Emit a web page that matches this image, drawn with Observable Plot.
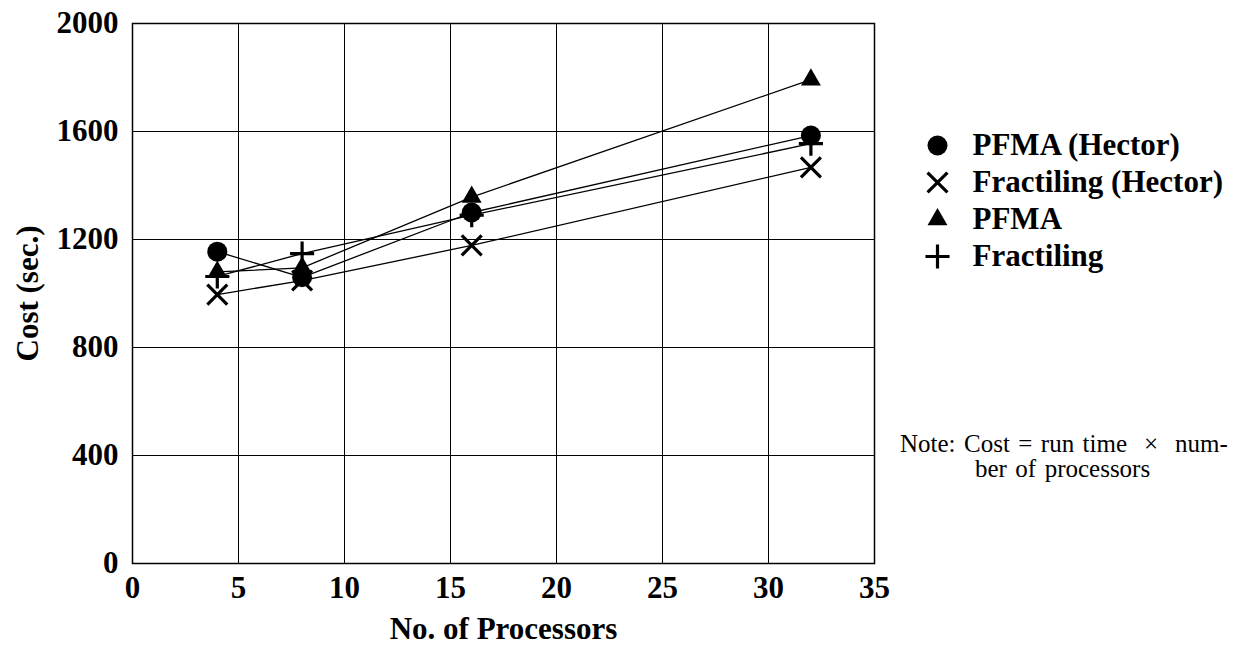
<!DOCTYPE html>
<html>
<head>
<meta charset="utf-8">
<script src="https://cdn.jsdelivr.net/npm/d3@7"></script>
<script src="https://cdn.jsdelivr.net/npm/@observablehq/plot@0.6"></script>
<style>
  html, body { margin: 0; padding: 0; background: #fff; }
  #wrap { position: relative; width: 1235px; height: 647px; overflow: hidden; }
  #legend { position: absolute; left: 900px; top: 120px; }
  #note { position: absolute; left: 900px; top: 431px; font-family: "Liberation Serif", "Times New Roman", serif; font-size: 25px; line-height: 25px; color: #000; white-space: nowrap; word-spacing: 2.2px; }
</style>
</head>
<body>
<div id="wrap">
  <div id="chart"></div>
  <div id="legend"></div>
  <div id="note">Note: Cost = run time &nbsp;×&nbsp; num-<br><span style="padding-left:75px">ber of processors</span></div>
</div>
<script>
const processors = [4, 8, 16, 32];
const seriesNames = ["PFMA (Hector)", "Fractiling (Hector)", "PFMA", "Fractiling"];
const pfmaHector = [1155, 1060, 1300, 1585];
const fractilingHector = [996, 1048, 1178, 1467];
const pfma = [1080, 1095, 1357, 1792];
const fractiling = [1063, 1148, 1290, 1555];
const xTicks = [0, 5, 10, 15, 20, 25, 30, 35];
const yTicks = [0, 400, 800, 1200, 1600, 2000];

const seriesValues = [pfmaHector, fractilingHector, pfma, fractiling];
const symbols = ["circle", "times", "triangle", "plus"];
const filled = [true, false, true, false];
const radii = [10, 9.1, 7.4, 7.8];

const rows = [];
seriesNames.forEach((name, i) => {
  processors.forEach((p, j) => rows.push({series: name, procs: p, cost: seriesValues[i][j]}));
});

const font = '"Liberation Serif", "Times New Roman", serif';

const symbolMarks = seriesNames.map((name, i) => Plot.dot(rows.filter(d => d.series === name), {
  x: "procs", y: "cost", symbol: () => symbols[i], r: radii[i],
  fill: filled[i] ? "black" : "none",
  stroke: filled[i] ? "none" : "black",
  strokeWidth: filled[i] ? 0 : 3.2
}));

const chart = Plot.plot({
  width: 1235,
  height: 647,
  marginLeft: 132,
  marginRight: 361,
  marginTop: 23,
  marginBottom: 84,
  style: {fontFamily: font, fontWeight: "bold", fontSize: "30px", color: "black", background: "white", overflow: "visible"},
  x: {domain: [0, 35], ticks: xTicks},
  y: {domain: [0, 2000], ticks: yTicks},
  symbol: {type: "identity"},
  marks: [
    Plot.gridX(xTicks, {stroke: "black", strokeOpacity: 1, strokeWidth: 1}),
    Plot.gridY(yTicks, {stroke: "black", strokeOpacity: 1, strokeWidth: 1}),
    Plot.frame({stroke: "black", strokeWidth: 1.5}),
    Plot.axisX(xTicks, {tickSize: 0, tickPadding: 12, fontSize: 31, fontWeight: "bold", tickFormat: d => String(d),
      label: "No. of Processors", labelAnchor: "center", labelArrow: "none", labelOffset: 75}),
    Plot.axisY(yTicks, {tickSize: 0, tickPadding: 14, fontSize: 31, fontWeight: "bold", tickFormat: d => String(d),
      label: "Cost (sec.)", labelAnchor: "center", labelArrow: "none", labelOffset: 117}),
    Plot.line(rows, {x: "procs", y: "cost", z: "series", stroke: "black", strokeWidth: 1.3}),
    ...symbolMarks
  ]
});
document.getElementById("chart").append(chart);

// Legend
const legendRows = seriesNames.map((name, i) => ({name, symbol: symbols[i], filled: filled[i], r: radii[i]}));
const legend = Plot.plot({
  width: 335,
  height: 160,
  marginLeft: 37,
  marginRight: 0,
  marginTop: 25,
  marginBottom: 24,
  style: {fontFamily: font, fontWeight: "bold", fontSize: "31px", color: "black", background: "transparent", overflow: "visible"},
  x: {axis: null, domain: [0, 1]},
  y: {axis: null, type: "point", domain: seriesNames, padding: 0},
  symbol: {type: "identity"},
  marks: [
    ...legendRows.map(d => Plot.dot([d], {
      y: "name", frameAnchor: "left", symbol: "symbol", r: d.r,
      fill: d.filled ? "black" : "none",
      stroke: d.filled ? "none" : "black",
      strokeWidth: d.filled ? 0 : 3.2
    })),
    Plot.text(legendRows, {y: "name", text: "name", frameAnchor: "left", textAnchor: "start", dx: 35, fontSize: 31, fontWeight: "bold"})
  ]
});
document.getElementById("legend").append(legend);
</script>
</body>
</html>
